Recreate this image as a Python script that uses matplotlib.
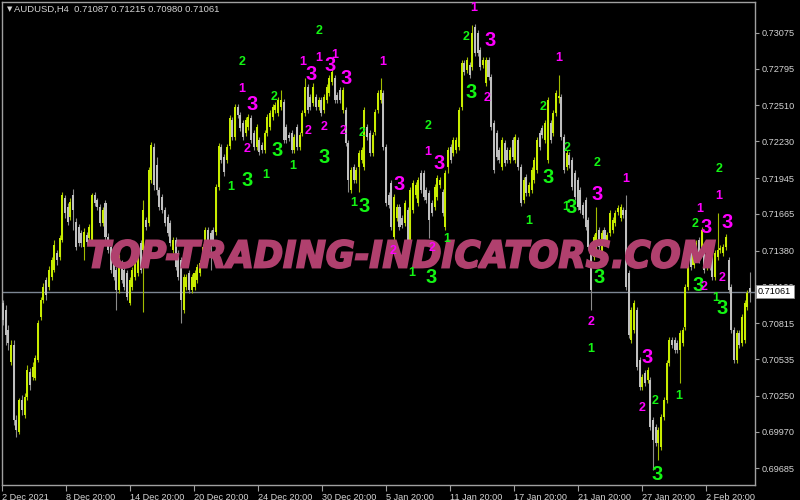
import matplotlib
matplotlib.use('Agg')
import matplotlib.pyplot as plt
import numpy as np
from matplotlib.textpath import TextPath
from matplotlib.patches import PathPatch
from matplotlib.font_manager import FontProperties
from matplotlib.transforms import Affine2D, IdentityTransform, blended_transform_factory

# ---------------- data (prices in points, 1 point = 0.00001) ----------------
open_pts = [70972,70917,70761,70512,70644,70060,69966,70216,70099,70239,70434,70395,70388,70528,70862,70995,71151,71096,71174,71229,
 71362,71330,71462,71790,71719,71641,71813,71602,71563,71517,71407,71501,71478,71462,71813,71774,71719,71595,71751,71485,
 71407,71362,71229,71073,71284,71229,71206,70972,71096,71174,71206,71439,71385,71618,71595,71930,72186,72047,71852,71797,
 71696,71641,71595,71385,71462,71362,71307,70917,71096,71206,71073,71096,71151,71206,71307,71407,71540,71517,71540,71524,
 71875,72186,72109,72086,72194,72397,72264,72498,72436,72374,72296,72342,72413,72296,72186,72241,72202,72164,72296,72342,
 72420,72475,72452,72498,72537,72342,72280,72296,72164,72342,72186,72296,72452,72654,72576,72530,72576,72498,72553,72475,
 72553,72608,72693,72725,72592,72631,72475,72475,72218,71852,72031,71930,72031,72086,72031,72342,72296,72141,72303,72475,
 72553,72608,72186,71813,71907,71485,71634,71719,71634,71595,71696,71462,71696,71813,71751,71985,71985,71852,71829,71751,
 71719,71797,71891,71836,71563,72031,72186,72141,72164,72186,72498,72842,72787,72826,72810,73121,73075,72943,72826,72686,
 72865,72732,72374,72296,72164,72031,72218,72164,72086,72241,72086,72241,72031,71774,71953,71829,71852,71930,72008,72296,
 72335,72241,72086,72374,72296,72452,72569,72576,72264,72031,72125,72086,71985,71930,71852,71735,71774,71618,71407,71330,
 71385,71540,71307,71540,71439,71517,71540,71595,71680,71634,71696,71696,71206,70683,70761,70917,70528,70317,70427,70372,
 70372,70060,70005,69881,69849,70083,70216,70505,70683,70683,70660,70606,70660,70784,71096,71362,71268,71330,71462,71385,
 71407,71252,71330,71330,71174,71330,71385,71362,71407,71307,71096,70761,70528,70738,70660,70683,70940,71087]
close_pts = [70839,70722,70660,70644,70060,69982,70216,70138,70239,70450,70333,70473,70544,70816,70995,71096,71034,71229,71307,71423,
 71307,71478,71813,71673,71602,71758,71696,71407,71439,71439,71524,71446,71563,71813,71751,71719,71595,71696,71485,71385,
 71229,71174,71073,71330,71151,71096,71018,71151,71229,71307,71330,71229,71696,71563,72008,72202,71891,71852,71719,71696,
 71595,71517,71439,71462,71252,71174,70995,71174,71174,71073,71174,71206,71252,71284,71407,71540,71462,71407,71439,71875,
 72194,72086,71992,72186,72413,72264,72498,72436,72335,72264,72397,72420,72241,72186,72342,72148,72164,72296,72420,72452,
 72498,72514,72553,72553,72241,72241,72257,72164,72264,72186,72280,72452,72654,72475,72498,72654,72498,72553,72452,72576,
 72654,72725,72771,72553,72553,72553,72631,72218,71930,72008,71930,72008,72141,72164,72475,72264,72141,72280,72459,72608,
 72631,72186,71751,71735,71563,71797,71719,71563,71579,71751,71439,71852,71907,71891,71930,71852,71797,71774,71618,71673,
 71875,71946,71930,71673,71985,72164,72086,72241,72241,72475,72842,72771,72865,72748,73075,72920,72920,72810,72865,72865,
 72732,72342,72008,72109,72086,72241,72063,72086,72164,72109,72264,72031,71751,71930,71829,71891,72008,72086,72241,72186,
 72280,72374,72553,72241,72452,72608,72584,72264,72008,72141,72047,71875,71797,71719,71696,71657,71563,71407,71073,71485,
 71517,71407,71517,71439,71501,71673,71618,71673,71712,71719,71657,71096,70722,70917,70972,70473,70317,70395,70349,70450,
 70005,69904,69881,69982,70083,70216,70505,70683,70644,70606,70606,70738,70761,71096,71330,71252,71346,71439,71307,71540,
 71229,71307,71252,71174,71362,71385,71400,71407,71485,71073,70761,70528,70738,70644,70862,70972,71050,71061]
high_pts = [70995,70956,70800,70683,70683,70099,70232,70255,70271,70489,70466,70512,70567,70839,71018,71128,71174,71260,71330,71462,
 71385,71501,71836,71813,71751,71790,71860,71634,71587,71540,71556,71524,71587,71829,71836,71790,71743,71719,71774,71517,
 71431,71385,71252,71354,71307,71252,71229,71174,71252,71330,71354,71462,71774,71641,72031,72225,72218,72109,71875,71821,
 71719,71665,71618,71485,71485,71385,71330,71198,71198,71229,71198,71229,71276,71307,71431,71563,71563,71540,71563,71899,
 72218,72210,72133,72210,72436,72420,72522,72522,72459,72397,72420,72444,72436,72319,72366,72264,72225,72319,72444,72475,
 72522,72537,72576,72631,72561,72366,72303,72319,72288,72366,72303,72475,72725,72678,72600,72686,72600,72576,72576,72600,
 72678,72748,72795,72748,72615,72654,72654,72498,72241,72031,72055,72031,72164,72186,72498,72366,72319,72303,72483,72631,
 72725,72631,72210,71836,71930,71821,71743,71743,71657,71774,71719,71875,71930,71914,71953,72008,72008,71875,71852,71774,
 71899,71969,71953,71860,72008,72186,72210,72264,72264,72498,72865,72865,72888,72849,73137,73145,73098,72965,72888,72888,
 72888,72756,72397,72319,72186,72264,72241,72186,72186,72264,72288,72264,72055,71953,71977,71914,72031,72109,72264,72319,
 72358,72397,72576,72397,72475,72631,72748,72600,72288,72164,72148,72109,72008,71953,71875,71758,71797,71641,71431,71509,
 71719,71563,71540,71563,71524,71696,71641,71696,71735,71743,71719,71813,71229,70940,70995,70940,70551,70419,70450,70473,
 70395,70083,70029,70005,70107,70239,70528,70706,70706,70706,70683,70761,70784,71120,71354,71385,71369,71462,71485,71563,
 71431,71330,71354,71354,71385,71673,71423,71431,71509,71330,71120,70784,70761,70761,70886,70995,71073,71215]
low_pts = [70800,70644,70606,70489,70021,69927,69951,70099,70076,70216,70294,70372,70372,70512,70839,70972,70995,71073,71151,71213,
 71268,71307,71446,71634,71579,71618,71540,71385,71415,71407,71307,71423,71454,71446,71727,71696,71571,71571,71462,71362,
 71206,71151,70917,71050,71128,71073,70995,70956,71073,71151,71182,71206,70901,71540,71571,71907,71852,71813,71696,71673,
 71571,71493,71415,71362,71229,71151,70816,70894,71073,71050,71050,71073,71128,71182,71284,71385,71439,71229,71415,71501,
 71852,72063,71961,72063,72171,72241,72241,72413,72311,72241,72272,72319,72218,72164,72164,72125,72141,72141,72272,72319,
 72397,72452,72428,72475,72218,72218,72233,72141,72141,72164,72164,72272,72428,72452,72475,72506,72475,72475,72428,72452,
 72530,72584,72670,72530,72530,72530,72452,72194,71836,71829,71907,71907,71836,72063,72008,72241,72117,72117,72280,72452,
 72530,72164,71727,71712,71540,71462,71610,71540,71556,71571,71415,71439,71673,71790,71727,71829,71774,71751,71478,71649,
 71696,71774,71868,71649,71540,71985,72063,72117,72141,72164,72475,72748,72764,72725,72787,72896,72896,72787,72803,72662,
 72709,72319,71985,72086,72063,72008,72039,72063,72063,72086,72063,72008,71727,71751,71805,71805,71829,71907,71985,72164,
 72257,72218,72063,72218,72272,72428,72530,72241,71985,72008,72024,71852,71774,71696,71673,71634,71540,71385,70917,71307,
 71362,71385,71284,71415,71415,71493,71517,71571,71657,71610,71634,71073,70699,70660,70738,70450,70294,70294,70325,70349,
 69982,69671,69857,69749,69827,70060,70193,70481,70621,70583,70583,70349,70636,70761,71073,71229,71245,71307,71284,71362,
 71206,71229,71229,71151,71151,71307,71362,71338,71385,71050,70738,70505,70505,70621,70636,70660,70917,70980]

date_labels = ['2 Dec 2021', '8 Dec 20:00', '14 Dec 20:00', '20 Dec 20:00', '24 Dec 20:00', '30 Dec 20:00',
               '5 Jan 20:00', '11 Jan 20:00', '17 Jan 20:00', '21 Jan 20:00', '27 Jan 20:00', '2 Feb 20:00']
date_tick_bar = [-0.37, 23.36, 47.09, 70.82, 94.55, 118.28, 142.01, 165.74, 189.47, 213.20, 236.93, 260.66]
price_ticks = [0.73075, 0.72795, 0.72510, 0.72230, 0.71945, 0.71665, 0.71380, 0.71100,
               0.70815, 0.70535, 0.70250, 0.69970, 0.69685]
last_price = 0.71061
header = 'AUDUSD,H4  0.71087 0.71215 0.70980 0.71061'

# indicator wave labels: text, bar position, price (points), colour key
lbl_text = ['2','1','3','2','3','1','1','2','3','1','1','3','2','2','1','3','1','3','2','2','3','2','1','1','3','3','2','1','3','2',
            '2','1','1','3','1','2','3','3','2','1','2','2','3','1','1','3','2','3','1','3','2','1','3','2','2','1','3','2','1','1',
            '2','3','3','3','2','2','1','3']
lbl_col = ['g','m','m','m','g','g','g','g','g','g','m','m','m','g','m','m','m','m','m','m','g','g','m','g','g','m','g','m','m','m',
           'm','g','g','g','m','g','m','g','m','m','g','g','g','g','g','g','g','m','m','g','m','g','m','m','g','g','g','g','m','m',
           'g','m','m','g','m','m','g','g']
lbl_bar = [88.6, 88.6, 92.3, 90.5, 90.5, 84.5, 97.5, 100.5, 101.6, 107.5, 111.2, 114.2, 113.1, 117.2, 117.2, 121.2, 123.1, 127.2,
           119.0, 126.1, 119.0, 133.1, 140.9, 130.1, 133.9, 146.8, 157.6, 157.6, 161.7, 144.6, 159.1, 164.6, 151.7, 158.7,
           174.6, 171.7, 180.6, 173.5, 179.5, 206.2, 200.2, 209.1, 202.1, 195.0, 208.8, 210.6, 220.2, 220.2, 231.0, 221.0,
           218.0, 218.0, 238.8, 236.9, 241.7, 250.6, 242.5, 265.5, 265.5, 258.4, 256.6, 260.7, 268.5, 257.7, 259.9, 266.6,
           264.4, 266.6]
lbl_pts = [72849, 72639, 72514, 72171, 71922, 71875, 71969, 72576, 72156, 72039, 72849, 72748, 72311, 73090, 72881, 72818,
           72904, 72717, 72342, 72311, 72102, 72296, 72849, 71751, 71727, 71891, 72350, 72148, 72055, 71377, 71400, 71470,
           71206, 71167, 73270, 73044, 73020, 72608, 72569, 72881, 72498, 72179, 71946, 71610, 71719, 71712, 72063, 71813,
           71938, 71174, 70824, 70613, 70544, 70154, 70208, 70247, 69632, 72016, 71805, 71704, 71587, 71563, 71595, 71104,
           71096, 71167, 71011, 70925]

# ---------------- styling ----------------
BG = 'black'
UP_BODY, UP_WICK = '#c8ec00', '#a2bc00'
DN_BODY, DN_WICK = '#c0c0c0', '#8c8c8c'
FRAME = '#a0a0a0'
TXT = '#d4d4d4'
COLS = {'m': '#ff00ff', 'g': '#14f514'}
FONT = 'Liberation Sans'

o = np.array(open_pts) / 1e5
c = np.array(close_pts) / 1e5
h = np.array(high_pts) / 1e5
l = np.array(low_pts) / 1e5
x = np.arange(len(o))

fig = plt.figure(figsize=(8, 5), dpi=100, facecolor=BG)
ax = fig.add_axes([2 / 800, 15 / 500, 753 / 800, 483 / 500], facecolor=BG)

ax.axhline(last_price, color='#7c8693', lw=1.0, zorder=1)

up = c >= o
dn = ~up
ax.vlines(x[up], l[up], h[up], color=UP_WICK, lw=0.8, zorder=2)
ax.vlines(x[dn], l[dn], h[dn], color=DN_WICK, lw=0.8, zorder=2)
lo = np.minimum(o, c)
hgt = np.maximum(np.abs(c - o), 0.00007)
ax.bar(x[up], hgt[up], bottom=lo[up], width=0.75, color=UP_BODY, lw=0, zorder=3)
ax.bar(x[dn], hgt[dn], bottom=lo[dn], width=0.75, color=DN_BODY, lw=0, zorder=3)

ax.set_xlim(-0.37, 278.8)
ax.set_ylim(0.69554, 0.73316)

# axes styling
for s in ax.spines.values():
    s.set_color(FRAME)
    s.set_linewidth(1.0)
ax.yaxis.tick_right()
ax.set_yticks(price_ticks)
ax.set_yticklabels([f'{p:.5f}' for p in price_ticks])
ax.tick_params(axis='y', colors=FRAME, labelcolor=TXT, length=3, width=0.8, pad=2, labelsize=6.6)
ax.set_xticks(date_tick_bar)
ax.set_xticklabels(date_labels, ha='left')
ax.tick_params(axis='x', colors=FRAME, labelcolor=TXT, length=4, width=0.8, pad=1.5, labelsize=6.6)
for t in ax.get_xticklabels() + ax.get_yticklabels():
    t.set_fontfamily(FONT)

# watermark (stretched to the reference box, stroked for weight)
fp = FontProperties(family='DejaVu Sans', weight='bold', style='italic')
tp = TextPath((0, 0), 'TOP-TRADING-INDICATORS.COM', size=100, prop=fp)
bb = tp.get_extents()
wx0, wx1, wy0, wy1 = 88, 715, 240, 268
tr = (Affine2D().translate(-bb.x0, -bb.y0)
      .scale((wx1 - wx0) / bb.width, (wy1 - wy0) / bb.height)
      .translate(wx0, 500 - wy1))
wm = PathPatch(tr.transform_path(tp), facecolor='#b0406e', edgecolor='#b0406e', linewidth=1.4,
               joinstyle='miter', transform=IdentityTransform(), zorder=5, clip_on=False)
ax.add_artist(wm)

# wave labels
for t, xb, p, ck in zip(lbl_text, lbl_bar, lbl_pts, lbl_col):
    ax.text(xb, p / 1e5, t, color=COLS[ck], fontsize=14.5 if t == '3' else 9, fontweight='bold',
            family=FONT, ha='center', va='center', zorder=7)

# current price box
bt = blended_transform_factory(ax.transAxes, ax.transData)
ax.text(1.004, last_price, f'{last_price:.5f}', transform=bt, color='black', fontsize=6.6, family=FONT,
        ha='left', va='center', zorder=10, clip_on=False,
        bbox=dict(boxstyle='square,pad=0.25', fc='white', ec='#909090', lw=0.6))

# header
fig.text(7 / 800, 1 - 9 / 500, '\u25BC', color=TXT, fontsize=5, family='DejaVu Sans', va='center', ha='left')
fig.text(14 / 800, 1 - 9 / 500, header, color=TXT, fontsize=6.8, family=FONT, va='center', ha='left')

fig.savefig('out.png', dpi=100, facecolor=BG)
